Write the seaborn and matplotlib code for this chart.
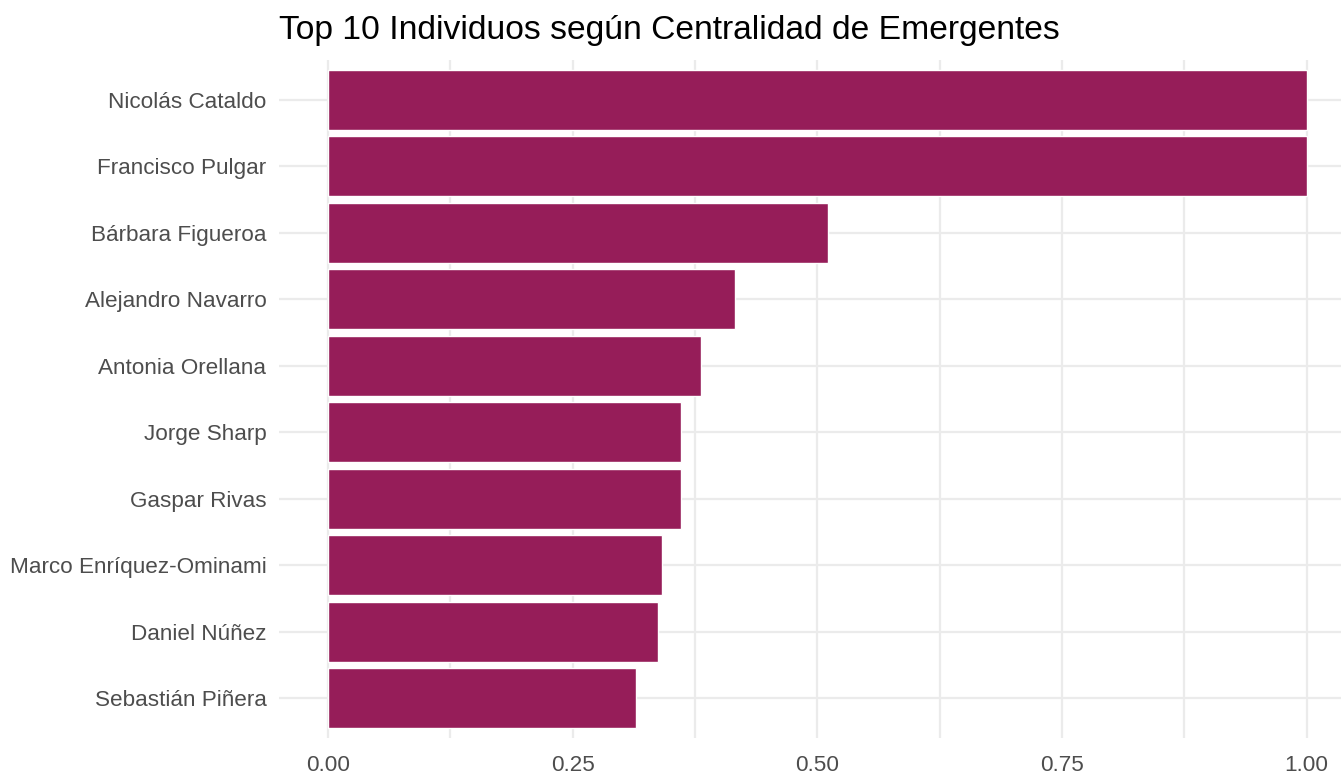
import matplotlib
matplotlib.use("Agg")
import matplotlib.pyplot as plt
from matplotlib.ticker import MultipleLocator
import pandas as pd
import seaborn as sns

# Data
names = [
    "Nicolás Cataldo", "Francisco Pulgar", "Bárbara Figueroa", "Alejandro Navarro",
    "Antonia Orellana", "Jorge Sharp", "Gaspar Rivas", "Marco Enríquez-Ominami",
    "Daniel Núñez", "Sebastián Piñera",
]
centrality = [1.000, 1.000, 0.511, 0.416, 0.381, 0.361, 0.361, 0.341, 0.337, 0.315]
title = "Top 10 Individuos según Centralidad de Emergentes"

bar_color = "#961D59"
grid_color = "#EBEBEB"
text_gray = "#4D4D4D"

sns.set_theme(style="white")
plt.rcParams["font.family"] = ["Liberation Sans", "DejaVu Sans"]

df = pd.DataFrame({"name": names, "centrality": centrality})

W, H = 1341, 775
fig = plt.figure(figsize=(W / 100, H / 100), dpi=100)
ax = fig.add_axes([279 / W, 37 / H, (W - 279) / W, (738 - 60) / H])

sns.barplot(data=df, x="centrality", y="name", orient="h", color=bar_color,
            saturation=1, width=0.9, ax=ax, zorder=3)

ax.set_xlim(-0.05, 1.035)
ax.set_ylim(len(names) - 0.4, -0.6)
ax.xaxis.set_major_locator(MultipleLocator(0.25))
ax.xaxis.set_minor_locator(MultipleLocator(0.125))
ax.set_xticklabels([f"{v:.2f}" for v in ax.get_xticks()])
ax.set_xlim(-0.05, 1.035)

ax.grid(True, which="major", axis="both", color=grid_color, lw=1.6, zorder=0)
ax.grid(True, which="minor", axis="x", color=grid_color, lw=1.6, zorder=0)
ax.set_axisbelow(True)
for s in ax.spines.values():
    s.set_visible(False)

ax.tick_params(axis="both", which="both", length=0, labelsize=16.2, labelcolor=text_gray)
ax.tick_params(axis="y", pad=9)
ax.tick_params(axis="x", pad=12.5)
ax.set_xlabel("")
ax.set_ylabel("")

fig.text(279 / W, 1 - 39 / H, title, fontsize=24.2, color="black",
         ha="left", va="baseline")

fig.savefig("out.png", dpi=100)
plt.close(fig)
